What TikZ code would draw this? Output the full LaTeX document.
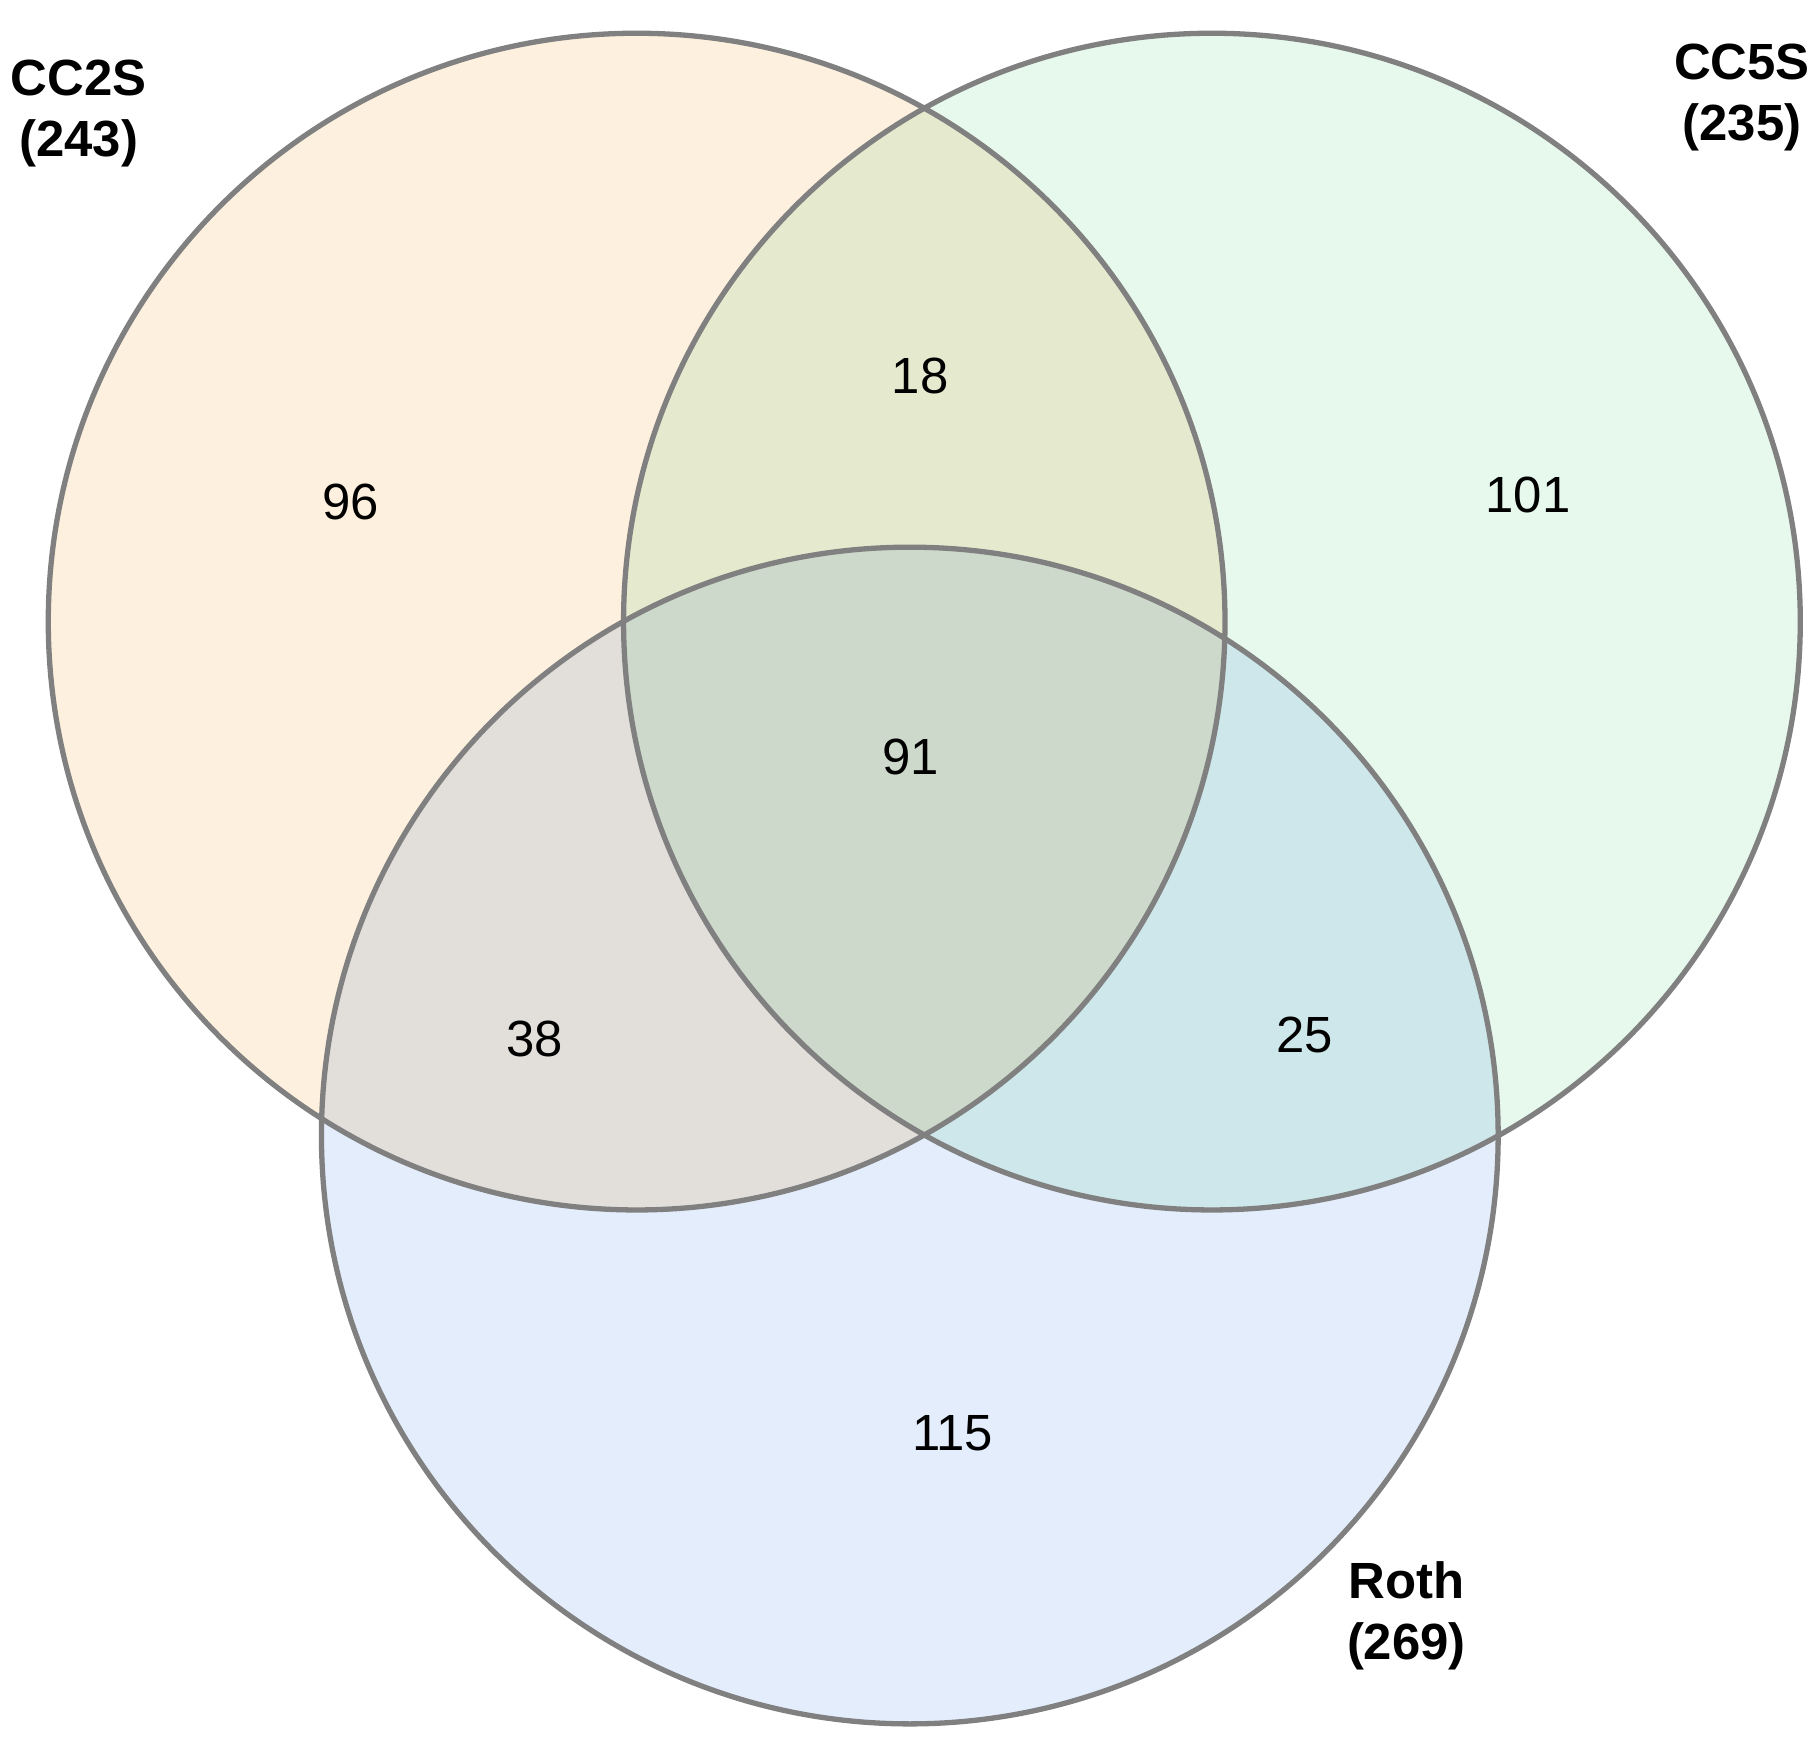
\documentclass[tikz,border=0pt]{standalone}
\usepackage{fontspec}
\setmainfont{Liberation Sans}
\begin{document}
\begin{tikzpicture}[x=0.01cm,y=-0.01cm,
  ring/.style={draw=black!50,line width=1.3pt},
  num/.style={font=\fontsize{12.5}{14}\selectfont},
  lab/.style={font=\bfseries\fontsize{12.5}{15}\selectfont,align=center}]
\useasboundingbox (0,0) rectangle (1568,1512);
\begin{scope}[blend group=multiply]
\fill[fill={rgb,255:red,253;green,240;blue,222}] (550,537) circle (508);
\fill[fill={rgb,255:red,231;green,249;blue,237}] (1047,537) circle (508);
\fill[fill={rgb,255:red,228;green,237;blue,252}] (786,981) circle (508);
\end{scope}
\node[ring,circle,minimum size=10.16cm,inner sep=0pt] (a) at (550,537) {};
\node[ring,circle,minimum size=10.16cm,inner sep=0pt] (b) at (1047,537) {};
\node[ring,circle,minimum size=10.16cm,inner sep=0pt] (c) at (786,981) {};
\node[num] (n1) at (303,434) {96};
\node[num] (n2) at (795,325) {18};
\node[num] (n3) at (1320,428) {101};
\node[num] (n4) at (787,654) {91};
\node[num] (n5) at (462,898) {38};
\node[num] (n6) at (1127,894) {25};
\node[num] (n7) at (823,1238) {115};
\node[lab] (l1) at (68,98) {CC2S\\(243)};
\node[lab] (l2) at (1505,84) {CC5S\\(235)};
\node[lab] (l3) at (1215,1396) {Roth\\(269)};
\end{tikzpicture}
\end{document}
